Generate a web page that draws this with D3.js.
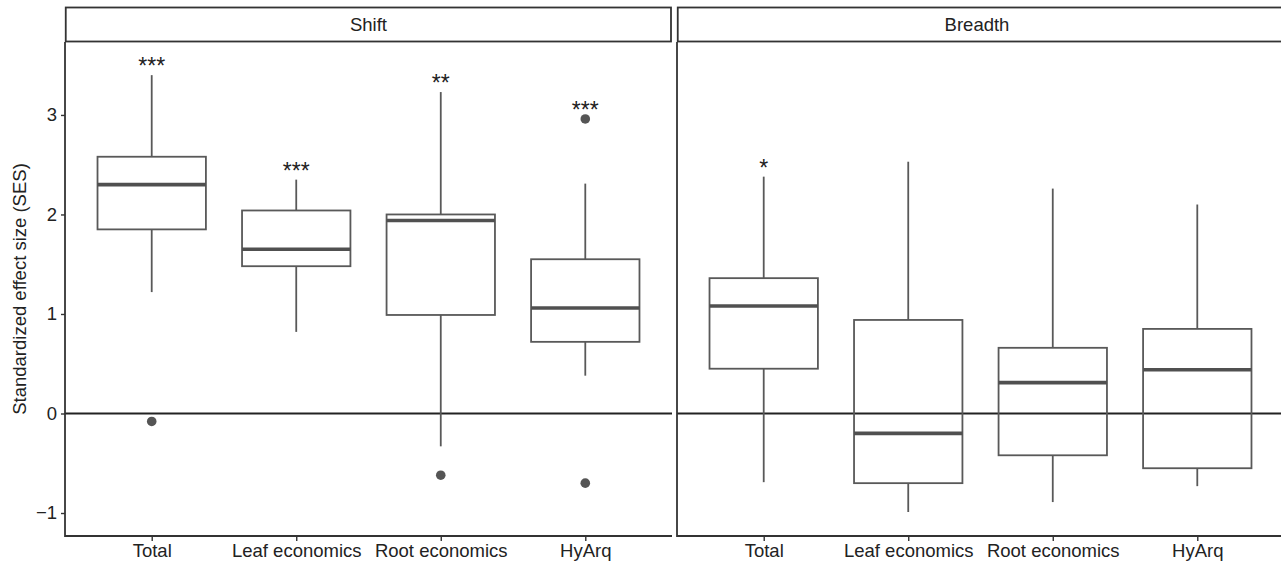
<!DOCTYPE html>
<html>
<head>
<meta charset="utf-8">
<script src="https://cdn.jsdelivr.net/npm/d3@7"></script>
<style>
  body { margin: 0; background: #fff; }
  svg { display: block; font-family: "Liberation Sans", Arial, sans-serif; }
</style>
</head>
<body>
<script>
// data
var facets = ["Shift", "Breadth"];
var categories = ["Total", "Leaf economics", "Root economics", "HyArq"];
var yTicks = [-1, 0, 1, 2, 3];

// shift panel: whisker low, q1, median, q3, whisker high
var shiftLow = [1.22, 0.82, -0.33, 0.38];
var shiftQ1 = [1.85, 1.48, 0.99, 0.72];
var shiftMed = [2.30, 1.65, 1.94, 1.06];
var shiftQ3 = [2.58, 2.04, 2.00, 1.55];
var shiftHigh = [3.40, 2.35, 3.23, 2.31];
var shiftOut = [[-0.08], [], [-0.62], [2.96, -0.70]];
var shiftStars = ["***", "***", "**", "***"];

// breadth panel
var breadthLow = [-0.69, -0.99, -0.89, -0.73];
var breadthQ1 = [0.45, -0.70, -0.42, -0.55];
var breadthMed = [1.08, -0.20, 0.31, 0.44];
var breadthQ3 = [1.36, 0.94, 0.66, 0.85];
var breadthHigh = [2.38, 2.53, 2.26, 2.10];
var breadthOut = [[], [], [], []];
var breadthStars = ["*", "", "", ""];

var W = 1281, H = 565;
var svg = d3.select("body").append("svg")
  .attr("width", W)
  .attr("height", H);

var plotTop = 42, plotBottom = 536;
var panelX = [[65, 672], [677, 1284]];

var y = d3.scaleLinear()
  .domain([-1.231, 3.733])
  .range([plotBottom, plotTop]);

var panels = [
  {name: facets[0], low: shiftLow, q1: shiftQ1, med: shiftMed, q3: shiftQ3, high: shiftHigh, out: shiftOut, stars: shiftStars},
  {name: facets[1], low: breadthLow, q1: breadthQ1, med: breadthMed, q3: breadthQ3, high: breadthHigh, out: breadthOut, stars: breadthStars}
];

var boxCol = "#595959";
var fs = 18.5;

panels.forEach(function(p, pi) {
  var x0 = panelX[pi][0], x1 = panelX[pi][1];
  var x = d3.scalePoint().domain(categories).range([x0, x1]).padding(0.6);
  var bw = x.step() * 0.75;
  var g = svg.append("g");

  // strip
  g.append("rect")
    .attr("x", x0 + 0.75).attr("y", 7.5)
    .attr("width", (pi == 0 ? x1 - 1 : x1) - x0 - 0.75).attr("height", 34)
    .attr("fill", "#fff").attr("stroke", "#333").attr("stroke-width", 1.8);
  g.append("text")
    .attr("x", (x0 + Math.min(x1, W)) / 2 + (pi == 1 ? -2 : 0)).attr("y", 31)
    .attr("text-anchor", "middle")
    .attr("font-size", fs).attr("fill", "#222")
    .text(p.name);

  // zero line
  g.append("line")
    .attr("x1", x0).attr("x2", x1)
    .attr("y1", y(0)).attr("y2", y(0))
    .attr("stroke", "#222").attr("stroke-width", 1.8);

  var d = categories.map(function(c, i) {
    return {cat: c, low: p.low[i], q1: p.q1[i], med: p.med[i], q3: p.q3[i], high: p.high[i], out: p.out[i], star: p.stars[i]};
  });

  var b = g.selectAll("g.box").data(d).enter().append("g").attr("class", "box");

  // whiskers
  b.append("line")
    .attr("x1", function(e) { return x(e.cat); }).attr("x2", function(e) { return x(e.cat); })
    .attr("y1", function(e) { return y(e.high); }).attr("y2", function(e) { return y(e.q3); })
    .attr("stroke", boxCol).attr("stroke-width", 1.8);
  b.append("line")
    .attr("x1", function(e) { return x(e.cat); }).attr("x2", function(e) { return x(e.cat); })
    .attr("y1", function(e) { return y(e.q1); }).attr("y2", function(e) { return y(e.low); })
    .attr("stroke", boxCol).attr("stroke-width", 1.8);

  // box
  b.append("rect")
    .attr("x", function(e) { return x(e.cat) - bw / 2; })
    .attr("width", bw)
    .attr("y", function(e) { return y(e.q3); })
    .attr("height", function(e) { return y(e.q1) - y(e.q3); })
    .attr("fill", "none").attr("stroke", boxCol).attr("stroke-width", 1.8);

  // median
  b.append("line")
    .attr("x1", function(e) { return x(e.cat) - bw / 2; })
    .attr("x2", function(e) { return x(e.cat) + bw / 2; })
    .attr("y1", function(e) { return y(e.med); }).attr("y2", function(e) { return y(e.med); })
    .attr("stroke", "#505050").attr("stroke-width", 3.6);

  // outliers
  b.selectAll("circle").data(function(e) { return e.out.map(function(v) { return {cat: e.cat, v: v}; }); })
    .enter().append("circle")
    .attr("cx", function(o) { return x(o.cat); })
    .attr("cy", function(o) { return y(o.v); })
    .attr("r", 4.8).attr("fill", "#555");

  // significance stars
  b.append("text")
    .attr("x", function(e) { return x(e.cat); })
    .attr("y", function(e) { return y(d3.max([e.high].concat(e.out)) + 0.14) + 13; })
    .attr("text-anchor", "middle")
    .attr("font-size", 23).attr("fill", "#222")
    .text(function(e) { return e.star; });

  // x axis
  var xa = g.append("g")
    .attr("transform", "translate(0," + plotBottom + ")")
    .call(d3.axisBottom(x).tickSize(5).tickPadding(3));
  xa.select(".domain").remove();
  xa.selectAll(".tick line").attr("stroke", "#333").attr("stroke-width", 1.4);
  xa.selectAll(".tick text").attr("font-size", fs).attr("fill", "#222")
    .attr("font-family", "Liberation Sans, Arial, sans-serif");
  g.append("line")
    .attr("x1", x0).attr("x2", x1)
    .attr("y1", plotBottom).attr("y2", plotBottom)
    .attr("stroke", "#333").attr("stroke-width", 1.8);

  // y axis line
  g.append("line")
    .attr("x1", x0).attr("x2", x0)
    .attr("y1", plotTop).attr("y2", plotBottom + 0.9)
    .attr("stroke", "#333").attr("stroke-width", 1.8);

  if (pi == 0) {
    var ya = g.append("g")
      .attr("transform", "translate(" + x0 + ",0)")
      .call(d3.axisLeft(y).tickValues(yTicks).tickSize(4).tickPadding(4)
        .tickFormat(function(v) { return v < 0 ? "\u2212" + Math.abs(v) : v; }));
    ya.select(".domain").remove();
    ya.selectAll(".tick line").attr("stroke", "#333").attr("stroke-width", 1.4);
    ya.selectAll(".tick text").attr("font-size", fs).attr("fill", "#222")
      .attr("font-family", "Liberation Sans, Arial, sans-serif");
  }
});

// y title
svg.append("text")
  .attr("transform", "translate(26," + ((plotTop + plotBottom) / 2) + ") rotate(-90)")
  .attr("text-anchor", "middle")
  .attr("font-size", fs).attr("fill", "#222")
  .text("Standardized effect size (SES)");
</script>
</body>
</html>
